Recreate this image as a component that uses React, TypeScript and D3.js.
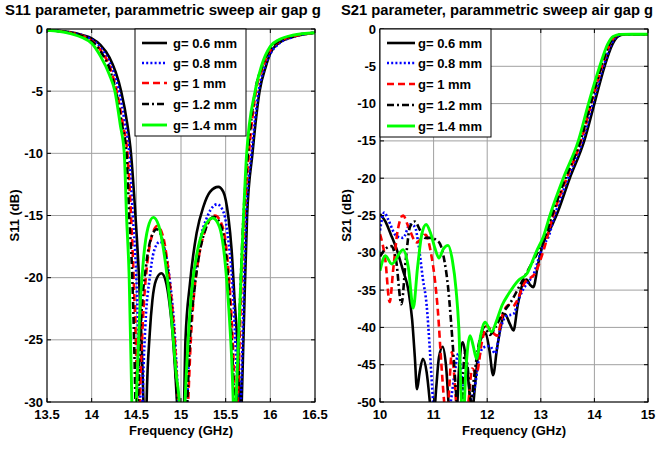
import React from "react";
import * as d3 from "d3";

type P = [number, number];

// ---------- Data ----------
const legendLabels = ["g= 0.6 mm", "g= 0.8 mm", "g= 1 mm", "g= 1.2 mm", "g= 1.4 mm"];

const s11XTicks = [13.5, 14, 14.5, 15, 15.5, 16, 16.5];
const s11YTicks = [0, -5, -10, -15, -20, -25, -30];
const s21XTicks = [10, 11, 12, 13, 14, 15];
const s21YTicks = [0, -5, -10, -15, -20, -25, -30, -35, -40, -45, -50];

const s11_g06: P[] = [
  [13.5, -0.1], [13.75, -0.25], [13.9, -0.5], [14.0, -0.75], [14.1, -1.3], [14.2, -2.3], [14.27, -3.5], [14.33, -5],
  [14.4, -7.7], [14.44, -10], [14.49, -15], [14.53, -20], [14.58, -30], [14.6, -36], [14.615, -30], [14.65, -24.5],
  [14.68, -21.8], [14.72, -20.2], [14.78, -19.65], [14.83, -20.3], [14.87, -22], [14.9, -24], [14.935, -27.5],
  [14.955, -30], [15.0, -38], [15.035, -30], [15.05, -25], [15.1, -20.5], [15.175, -16.4], [15.25, -14.3],
  [15.325, -13.1], [15.418, -12.7], [15.474, -13.1], [15.53, -15.1], [15.567, -17.8], [15.6, -21.8],
  [15.64, -26.4], [15.66, -30], [15.67, -33], [15.68, -30], [15.71, -22], [15.74, -15], [15.8, -10],
  [15.88, -5], [15.95, -3], [16.0, -1.95], [16.1, -1.1], [16.25, -0.65], [16.5, -0.3],
];
const s11_g08: P[] = [
  [13.5, -0.1], [13.75, -0.27], [14.0, -0.85], [14.1, -1.5], [14.2, -2.7], [14.3, -4.8], [14.37, -7.5], [14.42, -10],
  [14.46, -15], [14.5, -20], [14.54, -30], [14.555, -36], [14.57, -30], [14.6, -24], [14.65, -20], [14.7, -17.8],
  [14.765, -17.1], [14.82, -17.8], [14.88, -20.5], [14.93, -24.5], [14.97, -30], [15.02, -37], [15.07, -30],
  [15.1, -24], [15.15, -20], [15.2, -17.5], [15.3, -15], [15.406, -14.1], [15.48, -14.8], [15.53, -17],
  [15.58, -21], [15.62, -27], [15.64, -30], [15.655, -33], [15.67, -30], [15.70, -22], [15.73, -15], [15.79, -10],
  [15.87, -5], [15.94, -3], [16.0, -2], [16.1, -1.15], [16.25, -0.65], [16.5, -0.3],
];
const s11_g10: P[] = [
  [13.5, -0.1], [13.75, -0.28], [14.0, -0.95], [14.1, -1.7], [14.2, -3.0], [14.28, -5], [14.35, -7.7], [14.4, -10],
  [14.44, -15], [14.47, -20], [14.51, -30], [14.525, -36], [14.54, -30], [14.57, -24], [14.62, -19], [14.68, -16.5],
  [14.735, -15.85], [14.8, -16.7], [14.86, -19.5], [14.92, -24], [14.97, -30], [15.03, -37], [15.08, -30],
  [15.11, -25], [15.15, -21], [15.2, -18.3], [15.28, -16], [15.38, -15], [15.46, -15.8], [15.52, -18.5],
  [15.56, -22.5], [15.59, -27], [15.605, -30], [15.62, -33], [15.635, -30], [15.67, -22], [15.71, -15], [15.76, -10],
  [15.84, -5], [15.92, -3], [16.0, -1.7], [16.1, -1.0], [16.25, -0.6], [16.5, -0.3],
];
const s11_g12: P[] = [
  [13.5, -0.1], [13.75, -0.3], [14.0, -1.0], [14.1, -1.8], [14.2, -3.2], [14.27, -5], [14.34, -7.7], [14.39, -10],
  [14.42, -15], [14.455, -20], [14.49, -30], [14.505, -36], [14.52, -30], [14.55, -24], [14.61, -19], [14.67, -16.7],
  [14.73, -16.1], [14.79, -16.9], [14.85, -19.5], [14.91, -24], [14.96, -30], [15.02, -37], [15.07, -30],
  [15.1, -25], [15.15, -21], [15.2, -18.3], [15.28, -16], [15.37, -15.1], [15.45, -15.9], [15.51, -18.5],
  [15.55, -22.5], [15.58, -27], [15.595, -30], [15.61, -33], [15.625, -30], [15.66, -22], [15.7, -15], [15.75, -10],
  [15.83, -5], [15.91, -3], [16.0, -1.6], [16.1, -0.95], [16.25, -0.55], [16.5, -0.3],
];
const s11_g14: P[] = [
  [13.5, -0.1], [13.75, -0.35], [14.0, -1.15], [14.1, -2.2], [14.2, -3.7], [14.26, -5], [14.32, -7.7], [14.365, -10],
  [14.39, -15], [14.42, -20], [14.45, -30], [14.475, -36], [14.5, -30], [14.53, -24], [14.58, -18.5], [14.63, -16],
  [14.69, -15.15], [14.75, -15.8], [14.82, -18.5], [14.89, -23], [14.95, -28], [14.98, -30], [15.01, -37],
  [15.045, -30], [15.08, -25], [15.12, -21], [15.18, -18], [15.26, -16], [15.355, -15.2], [15.43, -15.9],
  [15.49, -18.5], [15.535, -22.5], [15.57, -27], [15.585, -30], [15.6, -33], [15.616, -30], [15.66, -22],
  [15.70, -15], [15.735, -10], [15.83, -5], [15.9, -3], [16.0, -1.4], [16.1, -0.85], [16.25, -0.5], [16.5, -0.3],
];

const s21_g06: P[] = [
  [10.0, -24.8], [10.1, -25.8], [10.2, -27.5], [10.31, -29.5], [10.43, -32.4], [10.53, -35], [10.6, -39],
  [10.65, -44], [10.69, -48.3], [10.74, -46], [10.8, -44.2], [10.87, -46], [10.93, -50], [10.98, -54],
  [11.05, -48], [11.1, -44], [11.17, -42.6], [11.23, -45], [11.3, -52], [11.4, -55], [11.48, -45], [11.54, -42.0],
  [11.6, -44], [11.66, -48], [11.71, -52], [11.77, -48], [11.86, -42], [11.97, -40.8], [12.04, -43], [12.11, -46.4],
  [12.18, -43], [12.25, -40], [12.33, -38.2], [12.42, -39.5], [12.49, -40.4], [12.57, -37], [12.67, -34.0],
  [12.74, -33.6], [12.8, -34.3], [12.86, -34.6], [12.95, -31.5], [13.05, -28.6], [13.15, -27.2], [13.29, -25],
  [13.54, -20], [13.81, -15], [14.0, -10], [14.19, -5], [14.34, -2], [14.44, -1], [14.55, -0.72], [14.75, -0.7],
  [14.9, -0.72], [15.0, -0.7],
];
const s21_g08: P[] = [
  [10.0, -27], [10.08, -24.6], [10.15, -25.5], [10.3, -27.7], [10.43, -28], [10.56, -26.2], [10.65, -26.5],
  [10.72, -29], [10.8, -33.5], [10.87, -37], [10.93, -43], [10.99, -50], [11.05, -56], [11.2, -56], [11.32, -50],
  [11.4, -45.8], [11.46, -43.5], [11.52, -46], [11.6, -52], [11.68, -50], [11.77, -48], [11.85, -44],
  [11.93, -42.7], [12.05, -42.5], [12.15, -43.5], [12.24, -40.4], [12.35, -38.5], [12.49, -38.2], [12.6, -36],
  [12.75, -34], [12.86, -33], [12.95, -31], [13.05, -29], [13.14, -27.9], [13.26, -25], [13.51, -20],
  [13.78, -15], [13.97, -10], [14.17, -5], [14.32, -2], [14.42, -1], [14.53, -0.72], [14.7, -0.7], [15.0, -0.7],
];
const s21_g10: P[] = [
  [10.0, -27.5], [10.1, -31], [10.18, -36.6], [10.25, -32], [10.33, -27], [10.43, -25.0], [10.53, -26.5],
  [10.68, -28.6], [10.85, -27.6], [10.95, -30], [11.03, -34], [11.08, -37.8], [11.14, -44.4], [11.2, -50.2],
  [11.25, -53], [11.3, -47], [11.34, -43.3], [11.39, -47], [11.45, -53], [11.55, -56], [11.65, -50],
  [11.72, -45.5], [11.8, -46.2], [11.9, -42], [11.99, -39.8], [12.08, -40.5], [12.18, -41.1], [12.3, -38],
  [12.4, -37], [12.48, -37.2], [12.55, -36.5], [12.7, -34], [12.89, -32.8], [13.05, -29.7], [13.23, -25],
  [13.48, -20], [13.75, -15], [13.94, -10], [14.14, -5], [14.29, -2], [14.39, -1], [14.51, -0.72], [14.7, -0.7],
  [15.0, -0.7],
];
const s21_g12: P[] = [
  [10.0, -30.5], [10.1, -29.5], [10.21, -29.1], [10.3, -31], [10.4, -36.9], [10.48, -31], [10.56, -26.5],
  [10.65, -25.8], [10.75, -27], [10.84, -28], [10.95, -28], [11.05, -28.3], [11.12, -28.8], [11.2, -31],
  [11.27, -34.6], [11.36, -42.6], [11.43, -50], [11.48, -55], [11.53, -50], [11.58, -43.5], [11.63, -45],
  [11.7, -50], [11.75, -47], [11.85, -42], [11.95, -40], [12.05, -41], [12.15, -40], [12.3, -38], [12.45, -36.5],
  [12.6, -34.5], [12.75, -32.5], [12.9, -30.5], [13.05, -28.5], [13.21, -25], [13.46, -20], [13.74, -15],
  [13.93, -10], [14.13, -5], [14.28, -2], [14.38, -1], [14.5, -0.72], [14.7, -0.7], [15.0, -0.7],
];
const s21_g14: P[] = [
  [10.0, -32.4], [10.1, -30.4], [10.22, -31.5], [10.43, -29.6], [10.53, -32], [10.62, -37.4], [10.7, -32],
  [10.78, -27.5], [10.86, -26.2], [10.95, -27.5], [11.03, -29.5], [11.1, -30.7], [11.18, -29.5], [11.27, -29],
  [11.35, -31], [11.42, -35], [11.47, -40], [11.52, -50], [11.55, -53], [11.6, -46], [11.68, -41.1],
  [11.74, -42.5], [11.8, -44.2], [11.88, -41], [11.96, -39.3], [12.08, -40.6], [12.18, -39], [12.28, -37],
  [12.4, -35.5], [12.58, -33.7], [12.74, -32.8], [12.92, -29.8], [13.05, -27.8], [13.17, -25], [13.42, -20],
  [13.7, -15], [13.89, -10], [14.1, -5], [14.25, -2], [14.35, -1], [14.48, -0.72], [14.7, -0.7], [15.0, -0.7],
];

const s11Series = [s11_g06, s11_g08, s11_g10, s11_g12, s11_g14];
const s21Series = [s21_g06, s21_g08, s21_g10, s21_g12, s21_g14];

// ---------- Styles ----------
const styles = [
  { stroke: "#000000", dash: "none", width: 2.6 },
  { stroke: "#0000ff", dash: "2,2.2", width: 2.6 },
  { stroke: "#ff0000", dash: "7,4", width: 2.6 },
  { stroke: "#000000", dash: "7,3,2,3", width: 2.6 },
  { stroke: "#00ff00", dash: "none", width: 2.9 },
];

const FONT = "Arial, 'Liberation Sans', sans-serif";

type PanelProps = {
  id: string;
  left: number;
  right: number;
  top: number;
  bottom: number;
  xDomain: [number, number];
  yDomain: [number, number];
  xTicks: number[];
  yTicks: number[];
  series: P[][];
  title: string;
  titleX: number;
  titleW: number;
  yLabel: string;
  yLabelX: number;
  legend: { x0: number; x1: number; y1: number; lx0: number; lx1: number; tx: number; ys: number[] };
};

function Panel(p: PanelProps) {
  const x = d3.scaleLinear().domain(p.xDomain).range([p.left, p.right]);
  const y = d3.scaleLinear().domain(p.yDomain).range([p.bottom, p.top]);
  const line = d3
    .line<P>()
    .x((d) => x(d[0]))
    .y((d) => y(d[1]))
    .curve(d3.curveMonotoneX);
  const tl = 4;
  const cx = (p.left + p.right) / 2;
  return (
    <g>
      <defs>
        <clipPath id={p.id}>
          <rect x={p.left} y={p.top} width={p.right - p.left} height={p.bottom - p.top} />
        </clipPath>
      </defs>
      {p.xTicks.map((t) => (
        <line key={"gx" + t} x1={x(t)} x2={x(t)} y1={p.top} y2={p.bottom} stroke="#a0a0a0" strokeWidth={1} />
      ))}
      {p.yTicks.map((t) => (
        <line key={"gy" + t} x1={p.left} x2={p.right} y1={y(t)} y2={y(t)} stroke="#a0a0a0" strokeWidth={1} />
      ))}
      <g clipPath={`url(#${p.id})`}>
        {p.series.map((s, i) => (
          <path
            key={i}
            d={line(s) || ""}
            fill="none"
            stroke={styles[i].stroke}
            strokeWidth={styles[i].width}
            strokeDasharray={styles[i].dash}
            strokeLinejoin="round"
          />
        ))}
      </g>
      <rect x={p.left} y={p.top} width={p.right - p.left} height={p.bottom - p.top} fill="none" stroke="#000" strokeWidth={1} />
      {p.xTicks.map((t) => (
        <g key={"tx" + t}>
          <line x1={x(t)} x2={x(t)} y1={p.bottom} y2={p.bottom - tl} stroke="#000" />
          <line x1={x(t)} x2={x(t)} y1={p.top} y2={p.top + tl} stroke="#000" />
          <text x={x(t)} y={p.bottom + 17} textAnchor="middle" fontSize={13} fontWeight="bold" fontFamily={FONT}>
            {t}
          </text>
        </g>
      ))}
      {p.yTicks.map((t) => (
        <g key={"ty" + t}>
          <line x1={p.left} x2={p.left + tl} y1={y(t)} y2={y(t)} stroke="#000" />
          <line x1={p.right} x2={p.right - tl} y1={y(t)} y2={y(t)} stroke="#000" />
          <text x={p.left - 4} y={y(t) + 4.5} textAnchor="end" fontSize={13} fontWeight="bold" fontFamily={FONT}>
            {t}
          </text>
        </g>
      ))}
      <text
        x={p.titleX}
        y={15}
        textAnchor="middle"
        fontSize={14}
        fontWeight="bold"
        fontFamily={FONT}
        textLength={p.titleW}
        lengthAdjust="spacingAndGlyphs"
      >
        {p.title}
      </text>
      <text x={cx} y={435} textAnchor="middle" fontSize={13} fontWeight="bold" fontFamily={FONT}>
        Frequency (GHz)
      </text>
      <text
        transform={`translate(${p.yLabelX},${(p.top + p.bottom) / 2}) rotate(-90)`}
        textAnchor="middle"
        fontSize={13}
        fontWeight="bold"
        fontFamily={FONT}
      >
        {p.yLabel}
      </text>
      <rect
        x={p.legend.x0}
        y={p.top}
        width={p.legend.x1 - p.legend.x0}
        height={p.legend.y1 - p.top}
        fill="#fff"
        stroke="#000"
        strokeWidth={1}
      />
      {legendLabels.map((lab, i) => (
        <g key={lab}>
          <line
            x1={p.legend.lx0}
            x2={p.legend.lx1}
            y1={p.legend.ys[i]}
            y2={p.legend.ys[i]}
            stroke={styles[i].stroke}
            strokeWidth={styles[i].width}
            strokeDasharray={styles[i].dash}
          />
          <text x={p.legend.tx} y={p.legend.ys[i] + 5} fontSize={13} fontWeight="bold" fontFamily={FONT}>
            {lab}
          </text>
        </g>
      ))}
    </g>
  );
}

export default function App() {
  return (
    <svg width={657} height={449} style={{ position: "absolute", left: 0, top: 0, background: "#fff" }}>
      <rect width={657} height={449} fill="#fff" />
      <Panel
        id="clipS11"
        left={47}
        right={315}
        top={29}
        bottom={402}
        xDomain={[13.5, 16.5]}
        yDomain={[-30, 0]}
        xTicks={s11XTicks}
        yTicks={s11YTicks}
        series={s11Series}
        title="S11 parameter, parammetric sweep air gap g"
        titleX={163}
        titleW={316}
        yLabel="S11 (dB)"
        yLabelX={19}
        legend={{ x0: 135, x1: 246, y1: 136, lx0: 142, lx1: 167, tx: 173, ys: [43, 63, 83, 104, 125] }}
      />
      <Panel
        id="clipS21"
        left={380}
        right={648}
        top={29}
        bottom={402}
        xDomain={[10, 15]}
        yDomain={[-50, 0]}
        xTicks={s21XTicks}
        yTicks={s21YTicks}
        series={s21Series}
        title="S21 parameter, parammetric sweep air gap g"
        titleX={497}
        titleW={312}
        yLabel="S21 (dB)"
        yLabelX={351}
        legend={{ x0: 380, x1: 491, y1: 137, lx0: 387, lx1: 415, tx: 418, ys: [43, 63, 84, 105, 126] }}
      />
    </svg>
  );
}
